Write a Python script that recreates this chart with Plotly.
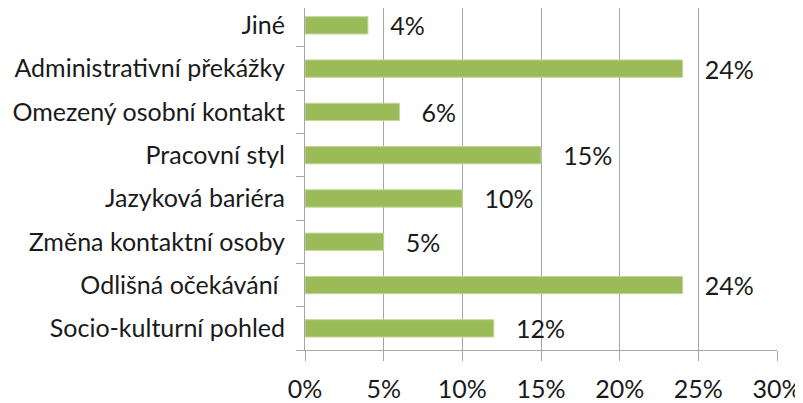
import plotly.graph_objects as go

categories = ["Socio-kulturní pohled", "Odlišná očekávání ", "Změna kontaktní osoby",
              "Jazyková bariéra", "Pracovní styl", "Omezený osobní kontakt",
              "Administrativní překážky", "Jiné"]
values = [0.12, 0.24, 0.05, 0.10, 0.15, 0.06, 0.24, 0.04]
labels = ["12%", "24%", "5%", "10%", "15%", "6%", "24%", "4%"]
x_ticks = [0, 0.05, 0.10, 0.15, 0.20, 0.25, 0.30]
x_tick_labels = ["0%", "5%", "10%", "15%", "20%", "25%", "30%"]

font_family = "Lato"
fs = 25

fig = go.Figure(go.Bar(
    y=categories, x=values, orientation="h",
    marker=dict(color="#9BBB59", line=dict(color="#C3D69B", width=1)),
    text=["   " + t for t in labels], textposition="outside",
    constraintext="none",
    textfont=dict(family=font_family, size=fs, color="#1a1a1a"),
    cliponaxis=False,
))

fig.update_layout(
    width=795, height=395,
    margin=dict(l=297, r=26, t=0, b=53, autoexpand=False),
    paper_bgcolor="white", plot_bgcolor="white",
    showlegend=False, bargap=0.6,
    font=dict(family=font_family, size=fs, color="#1a1a1a"),
)
fig.update_xaxes(
    range=[0, 0.30], tickvals=x_ticks, ticktext=x_tick_labels,
    showgrid=True, gridcolor="#A6A6A6", gridwidth=1,
    showline=True, linecolor="#A6A6A6", linewidth=1,
    ticks="outside", ticklen=10, tickcolor="#A6A6A6",
    ticklabelstandoff=7,
    tickfont=dict(size=fs), zeroline=False, fixedrange=True,
)
fig.update_yaxes(
    range=[-0.5, 7.4],
    showgrid=False, showline=True, linecolor="#A6A6A6", linewidth=1,
    ticks="outside", ticklen=8, tickcolor="#A6A6A6", tickson="boundaries",
    ticklabelstandoff=14,
    tickfont=dict(size=fs),
)

fig.write_html("out.html")
